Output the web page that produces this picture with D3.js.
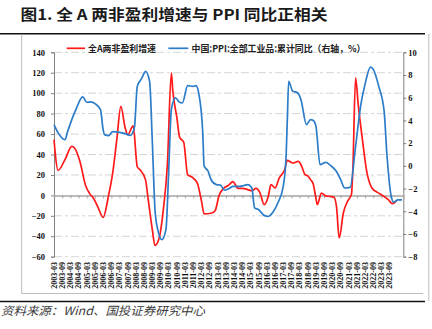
<!DOCTYPE html>
<html><head><meta charset="utf-8">
<script src="https://cdn.jsdelivr.net/npm/d3@7"></script>
<style>
html,body{margin:0;padding:0;background:#fff;}
svg{display:block;}
</style></head>
<body><svg id="c" width="432" height="329"></svg>
<script>
const titleText = "图1. 全 A 两非盈利增速与 PPI 同比正相关";
const sourceText = "资料来源：Wind、国投证券研究中心";
const seriesNames = ["全A两非盈利增速", "中国:PPI:全部工业品:累计同比（右轴，%）"];
const leftTicks = [-60,-40,-20,0,20,40,60,80,100,120,140];
const rightTicks = [-8,-6,-4,-2,0,2,4,6,8,10];
const xTickLabels = ["2003-03","2003-09","2004-03","2004-09","2005-03","2005-09","2006-03","2006-09","2007-03","2007-09","2008-03","2008-09","2009-03","2009-09","2010-03","2010-09","2011-03","2011-09","2012-03","2012-09","2013-03","2013-09","2014-03","2014-09","2015-03","2015-09","2016-03","2016-09","2017-03","2017-09","2018-03","2018-09","2019-03","2019-09","2020-03","2020-09","2021-03","2021-09","2022-03","2022-09","2023-03","2023-09"];

const profitDates = ["2003-03","2003-06","2003-11","2004-04","2004-06","2004-10","2005-02","2005-05","2005-08","2005-11","2006-03","2006-07","2006-10","2007-01","2007-04","2007-07","2007-09","2008-01","2008-04","2008-06","2008-10","2008-12","2009-03","2009-05","2009-08","2009-11","2010-02","2010-05","2010-06","2010-09","2010-11","2011-02","2011-05","2011-08","2011-12","2012-03","2012-05","2012-10","2013-01","2013-04","2013-07","2013-11","2014-02","2014-06","2014-09","2015-01","2015-04","2015-07","2015-10","2016-01","2016-04","2016-06","2016-09","2016-12","2017-04","2017-06","2017-10","2018-02","2018-04","2018-07","2018-09","2018-11","2019-01","2019-03","2019-04","2019-07","2019-10","2020-01","2020-04","2020-06","2020-08","2020-11","2021-02","2021-05","2021-06","2021-08","2021-10","2022-01","2022-04","2022-08","2022-12","2023-03","2023-08","2023-11","2024-02"];
const profitValues = [54.5,24.5,35,48,46.4,33,10,2,-3,-11,-21.5,0,22,55,87,67,59.4,68,28,25,15.4,-4.2,-33,-49,-42,-15,30,119.8,103,76,57,52,20,18,12,-5,-18,-17.5,-15,0,6.5,10,13.5,6.8,6.8,5.6,4.6,6.8,2.3,-9,-1,10.5,7.3,17,25,34.2,31.7,33.3,30,20.3,19,15.4,11,-3,-9,2.3,-0.5,-1,-1.6,-10.8,-41.7,-17.2,-5.9,1,25,115,88,54.5,25,7.2,2.9,0.7,-4.2,-8.1,-5.2];

const ppiDates = ["2003-03","2003-06","2003-11","2004-01","2004-04","2004-07","2004-12","2005-03","2005-06","2005-09","2006-01","2006-03","2006-04","2006-07","2006-10","2007-03","2007-07","2007-11","2008-01","2008-02","2008-04","2008-07","2008-08","2008-10","2009-01","2009-03","2009-05","2009-07","2009-10","2010-01","2010-03","2010-05","2010-08","2010-11","2011-01","2011-05","2011-09","2011-11","2012-01","2012-04","2012-05","2012-08","2012-10","2013-02","2013-05","2013-08","2013-12","2014-02","2014-07","2014-10","2015-01","2015-04","2015-06","2015-09","2016-01","2016-04","2016-07","2016-11","2017-03","2017-05","2017-06","2017-07","2017-10","2018-01","2018-04","2018-08","2018-11","2019-01","2019-03","2019-06","2019-10","2020-02","2020-06","2020-09","2020-12","2021-04","2021-08","2021-12","2022-03","2022-07","2022-09","2023-01","2023-05","2023-07","2023-08","2023-10","2023-12","2024-03","2024-06"];
const ppiValues = [3.63,2.9,2.3,3.04,4.07,4.95,6.07,5.6,5.63,5.48,4.95,3.19,2.75,2.66,3.01,2.95,2.84,2.69,3.04,3.48,7.0,7.65,7.9,8.32,7.44,2.3,-3.86,-5.6,-6.5,-5.6,-0.63,4.95,5.98,5.6,5.54,7.06,7.0,7.06,6.42,2.9,0,-0.5,-1.2,-1.65,-1.7,-2.15,-1.95,-1.8,-1.8,-1.74,-1.65,-1.95,-3.7,-3.86,-4.36,-4.45,-4.15,-3.27,-1.8,0.6,4.1,7.44,6.56,6.47,5.83,3.63,4.07,4.0,3.5,0.1,0.3,0,-0.5,-1.2,-1.95,-1.9,1.7,5.5,7.2,8.7,8.5,7.0,4.8,1.0,-0.5,-2.6,-3.2,-3.0,-3.0];

const parse = d3.timeParse("%Y-%m");
const svg = d3.select("#c");
const serif = "'Liberation Serif','Times New Roman',serif";
const cjk = "'Noto Sans CJK SC','Noto Sans',sans-serif";

const x = d3.scaleTime().domain([parse("2003-03"), parse("2024-07")]).range([54, 403.3]);
const yL = d3.scaleLinear().domain([-60, 140]).range([256.7, 52.3]);
const yR = d3.scaleLinear().domain([-8, 10]).range([256.7, 52.3]);

// title
svg.append("text").attr("x", 20.5).attr("y", 20).text(titleText)
  .attr("font-family", cjk).attr("font-weight", "bold").attr("font-size", 15)
  .attr("fill", "#1a1a1a").attr("textLength", 307).attr("lengthAdjust", "spacingAndGlyphs");
svg.append("line").attr("x1", 0).attr("x2", 425).attr("y1", 33.8).attr("y2", 33.8)
  .attr("stroke", "#111").attr("stroke-width", 1.4);

// frame
svg.append("path").attr("d", "M21.7,34.5V293.5H423").attr("fill", "none").attr("stroke", "#bdbdbd").attr("stroke-width", 1);
svg.append("line").attr("x1", 428.8).attr("x2", 428.8).attr("y1", 34).attr("y2", 301).attr("stroke", "#bdbdbd");
svg.append("line").attr("x1", 0).attr("x2", 425).attr("y1", 301.5).attr("y2", 301.5)
  .attr("stroke", "#111").attr("stroke-width", 1.4);
svg.append("text").attr("x", 1).attr("y", 314.5).text(sourceText)
  .attr("font-family", cjk).attr("font-style", "italic").attr("font-size", 11.5)
  .attr("fill", "#3a3a3a").attr("textLength", 204).attr("lengthAdjust", "spacingAndGlyphs");

// gridlines
const [x0, x1] = x.range();
svg.append("g").selectAll("line").data(leftTicks.filter(d => d !== 0)).join("line")
  .attr("x1", x0).attr("x2", x1).attr("y1", d => yL(d)).attr("y2", d => yL(d))
  .attr("stroke", "#d4d4d4").attr("stroke-width", 1).attr("stroke-dasharray", "8,3,3,3");

// left axis
const gL = svg.append("g").attr("transform", `translate(${x0},0)`)
  .call(d3.axisLeft(yL).tickValues(leftTicks).tickSize(3).tickPadding(6));
gL.select(".domain").attr("stroke", "#808080");
gL.selectAll(".tick line").attr("stroke", "#808080");
gL.selectAll("text").attr("font-family", serif).attr("font-weight", "bold").attr("font-size", 8.5).attr("fill", "#111");

// right axis
const gR = svg.append("g").attr("transform", `translate(${x1},0)`)
  .call(d3.axisRight(yR).tickValues(rightTicks).tickSize(3).tickPadding(2));
gR.select(".domain").attr("stroke", "#808080");
gR.selectAll(".tick line").attr("stroke", "#808080");
gR.selectAll("text").attr("font-family", serif).attr("font-weight", "bold").attr("font-size", 8.5).attr("fill", "#111");

// zero axis with ticks
const tickDates = xTickLabels.map(parse);
const gX = svg.append("g").attr("transform", `translate(0,${yL(0)})`)
  .call(d3.axisBottom(x).tickValues(tickDates).tickSize(3).tickFormat(""));
gX.select(".domain").attr("stroke", "#a6a6a6").attr("stroke-width", 1.5);
gX.selectAll(".tick line").attr("stroke", "#a6a6a6");

// x labels rotated at bottom
svg.append("g").selectAll("text").data(xTickLabels).join("text")
  .attr("transform", d => `translate(${x(parse(d))},262) rotate(-90)`)
  .attr("text-anchor", "end").attr("dy", "0.35em")
  .attr("font-family", serif).attr("font-weight", "bold").attr("font-size", 8).attr("fill", "#111")
  .text(d => d);

// lines
const profit = profitDates.map((d, i) => ({ date: parse(d), v: profitValues[i] }));
const ppi = ppiDates.map((d, i) => ({ date: parse(d), v: ppiValues[i] }));
const lineL = d3.line().x(d => x(d.date)).y(d => yL(d.v)).curve(d3.curveMonotoneX);
const lineR = d3.line().x(d => x(d.date)).y(d => yR(d.v)).curve(d3.curveMonotoneX);
svg.append("path").datum(profit).attr("d", lineL).attr("fill", "none")
  .attr("stroke", "#ff1a1a").attr("stroke-width", 1.7).attr("stroke-linejoin", "round");
svg.append("path").datum(ppi).attr("d", lineR).attr("fill", "none")
  .attr("stroke", "#2b7cc9").attr("stroke-width", 1.7).attr("stroke-linejoin", "round");

// legend
const legend = [
  { name: seriesNames[0], color: "#ff1a1a", lx: 66.7, len: 18.3, tx: 88, tw: 68 },
  { name: seriesNames[1], color: "#2b7cc9", lx: 168.3, len: 20, tx: 191.5, tw: 174 }
];
const lg = svg.append("g");
legend.forEach(l => {
  lg.append("line").attr("x1", l.lx).attr("x2", l.lx + l.len).attr("y1", 48.3).attr("y2", 48.3)
    .attr("stroke", l.color).attr("stroke-width", 1.7);
  lg.append("text").attr("x", l.tx).attr("y", 51.8).text(l.name)
    .attr("font-family", cjk).attr("font-weight", "bold").attr("font-size", 9.5).attr("fill", "#222")
    .attr("textLength", l.tw).attr("lengthAdjust", "spacingAndGlyphs");
});
</script>
</body></html>
